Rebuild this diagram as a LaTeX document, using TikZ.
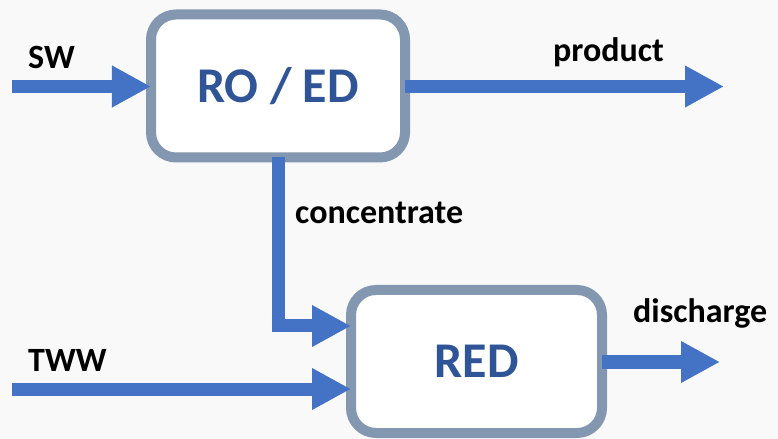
\documentclass[tikz,border=0pt]{standalone}
\usepackage{fontspec}
\setmainfont{Carlito}
\usetikzlibrary{arrows.meta}

\definecolor{bgcol}{HTML}{F9F9F9}
\definecolor{frame}{HTML}{8497B0}
\definecolor{flow}{HTML}{4472C4}
\definecolor{unitText}{HTML}{2F5597}

\tikzset{
  unit/.style={draw=frame, fill=white, line width=10bp, rounded corners=25bp,
    outer sep=0pt, inner sep=0pt, text=unitText,
    font=\fontsize{50bp}{60bp}\selectfont\bfseries},
  stream/.style={draw=flow, line width=13bp,
    -{Triangle[width=39bp,length=39bp]}},
  lbl/.style={anchor=base west, inner sep=0pt, text=black,
    font=\fontsize{34bp}{40bp}\selectfont\bfseries}
}

\begin{document}
\begin{tikzpicture}[x=1bp, y=-1bp]
  % canvas
  \fill[bgcol] (0,0) rectangle (778,439);
  \useasboundingbox (0,0) rectangle (778,439);

  % process units
  \node[unit, minimum width=254bp, minimum height=143bp] (ro) at (278,86) {RO / ED};
  \node[unit, minimum width=251bp, minimum height=143bp] (red) at (476.5,361.5) {RED};

  % free ends of the streams
  \coordinate (swin) at (12,86.5);
  \coordinate (twwin) at (12,389);
  \coordinate (prodout) at (724,86.5);
  \coordinate (disout) at (720,362);
  \coordinate (bend) at (278,326);

  % streams
  \draw[stream] (swin) -- (ro.west |- swin);
  \draw[stream] (ro.east |- prodout) -- (prodout);
  \draw[stream] (ro.south) -- (bend) -- (red.west |- bend);
  \draw[stream] (twwin) -- (red.west |- twwin);
  \draw[stream] (red.east |- disout) -- (disout);

  % stream labels
  \node[lbl] (lsw) at (28,69) {SW};
  \node[lbl] (lprod) at (553,62) {product};
  \node[lbl] (lconc) at (295,224) {concentrate};
  \node[lbl] (ltww) at (28,372) {TWW};
  \node[lbl] (ldis) at (633,323) {discharge};
\end{tikzpicture}
\end{document}
